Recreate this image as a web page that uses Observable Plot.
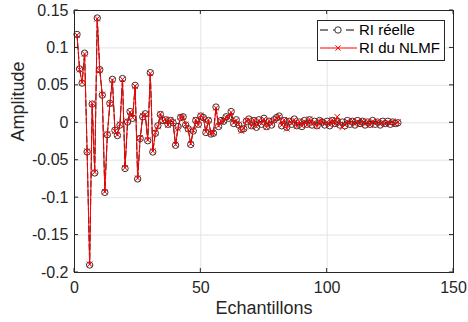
<!DOCTYPE html>
<html><head><meta charset="utf-8">
<script src="https://cdn.jsdelivr.net/npm/d3@7"></script>
<script src="https://cdn.jsdelivr.net/npm/@observablehq/plot@0.6"></script>
<style>body{margin:0;background:#fff} svg{font-family:"Liberation Sans",Arial,sans-serif}</style>
</head><body><div id="chart"></div>
<script>
const samples = d3.range(1, 129);
const riReelle = [0.118,0.072,0.053,0.093,-0.039,-0.190,0.025,-0.067,0.140,0.071,
0.037,-0.093,-0.016,0.026,0.058,-0.010,-0.017,-0.003,0.059,-0.061,
0.001,0.015,0.006,0.050,-0.075,-0.021,0.008,0.012,-0.024,0.067,
-0.039,-0.014,-0.004,0.011,0.003,0.004,-0.002,0.003,0.000,-0.030,
-0.005,0.007,0.008,-0.003,-0.008,-0.029,-0.011,0.003,-0.002,0.009,
0.007,-0.013,0.003,-0.015,-0.014,0.021,-0.005,0.003,0.002,0.008,
0.006,0.015,-0.001,0.004,-0.003,-0.009,-0.008,0.002,0.005,-0.004,
0.003,-0.006,0.004,-0.002,0.006,-0.005,0.002,-0.003,0.004,0.007,
0.009,-0.004,0.003,-0.006,0.002,-0.002,0.005,-0.004,0.001,-0.005,
0.003,-0.002,0.004,-0.003,0.002,-0.004,0.003,0.001,-0.003,0.002,
-0.004,0.003,-0.001,0.002,-0.003,0.001,-0.004,0.003,-0.002,0.002,
-0.003,0.003,-0.001,0.002,-0.003,0.001,-0.002,0.003,-0.002,0.001,
-0.003,0.002,-0.001,0.002,-0.002,0.001,-0.001,0.000];
const riNlmf = [0.117,0.071,0.054,0.092,-0.038,-0.189,0.026,-0.066,0.139,0.070,
0.038,-0.092,-0.015,0.025,0.057,-0.011,-0.016,-0.002,0.058,-0.060,
0.002,0.014,0.007,0.049,-0.074,-0.020,0.009,0.011,-0.023,0.066,
-0.038,-0.013,-0.005,0.012,0.002,0.005,-0.003,0.004,0.001,-0.029,
-0.008,0.008,0.007,-0.002,-0.009,-0.028,-0.010,0.004,-0.003,0.010,
0.006,-0.012,0.004,-0.014,-0.013,0.020,-0.004,0.002,0.003,0.007,
0.007,0.014,0.000,0.003,-0.002,-0.011,-0.007,0.003,0.004,-0.005,
0.004,-0.005,0.003,-0.001,0.005,-0.006,0.003,-0.002,0.003,0.006,
0.008,-0.003,0.004,-0.008,0.003,-0.001,0.004,-0.005,0.002,-0.004,
0.002,-0.003,0.005,-0.002,0.001,-0.005,0.002,0.002,-0.002,0.001,
-0.003,0.004,-0.002,0.008,-0.002,-0.006,-0.003,0.002,-0.001,0.003,
-0.002,0.002,-0.002,0.003,-0.002,0.002,-0.003,0.002,-0.001,0.002,
-0.002,0.001,-0.002,0.001,-0.001,0.002,-0.002,0.001];
const xTicks = [0, 50, 100, 150];
const yTicks = [-0.2, -0.15, -0.1, -0.05, 0, 0.05, 0.1, 0.15];
const yTickLabels = ["-0.2", "-0.15", "-0.1", "-0.05", "0", "0.05", "0.1", "0.15"];
const seriesNames = ["RI réelle", "RI du NLMF"];
const xLabel = "Echantillons";
const yLabel = "Amplitude";

const real = samples.map((n, i) => ({n, v: riReelle[i]}));
const est = samples.map((n, i) => ({n, v: riNlmf[i]}));
const W = 468, H = 322, mT = 10, mB = 50, mL = 74, mR = 15;

const plot = Plot.plot({
  width: W, height: H, marginTop: mT, marginBottom: mB, marginLeft: mL, marginRight: mR,
  style: {fontSize: "16px", fontFamily: "'Liberation Sans', Arial, sans-serif", color: "#262626", background: "#fff", overflow: "visible"},
  x: {domain: [0, 150]},
  y: {domain: [-0.2, 0.15]},
  marks: [
    Plot.gridX(xTicks, {stroke: "#e3e3e3", strokeOpacity: 1}),
    Plot.gridY(yTicks, {stroke: "#e3e3e3", strokeOpacity: 1}),
    Plot.axisX(xTicks, {tickSize: 0, tickPadding: 9, label: null, tickFormat: d => String(d), fill: "#262626"}),
    Plot.axisY(yTicks, {tickSize: 0, tickPadding: 6, label: null, tickFormat: d => yTickLabels[yTicks.indexOf(d)], fill: "#262626"}),
    Plot.text([xLabel], {text: d => d, frameAnchor: "bottom", dy: 41, fontSize: 18, fill: "#262626"}),
    Plot.text([yLabel], {text: d => d, frameAnchor: "left", dx: -56, rotate: -90, fontSize: 18, fill: "#262626"}),
    Plot.line(real, {x: "n", y: "v", stroke: "#000", strokeWidth: 1, strokeDasharray: "6,3"}),
    Plot.dot(real, {x: "n", y: "v", r: 3.2, stroke: "#333", strokeWidth: 1, fill: "none"}),
    Plot.line(est, {x: "n", y: "v", stroke: "#ff0000", strokeWidth: 1}),
    Plot.dot(est, {x: "n", y: "v", symbol: "times", r: 2.6, stroke: "#ff0000", strokeWidth: 1}),
    Plot.frame({stroke: "#262626", strokeWidth: 1})
  ]
});
document.getElementById("chart").appendChild(plot);

// inward ticks on all four sides (MATLAB box style)
const svg = d3.select(plot);
const sx = plot.scale("x"), sy = plot.scale("y");
const g = svg.append("g").style("stroke", "#262626").style("stroke-width", "1px");
const x0 = mL, x1 = W - mR, y0 = mT, y1 = H - mB, tl = 4;
xTicks.forEach(t => {
  const x = sx.apply(t);
  g.append("line").attr("x1", x).attr("x2", x).attr("y1", y1).attr("y2", y1 - tl);
  g.append("line").attr("x1", x).attr("x2", x).attr("y1", y0).attr("y2", y0 + tl);
});
yTicks.forEach(t => {
  const y = sy.apply(t);
  g.append("line").attr("x1", x0).attr("x2", x0 + tl).attr("y1", y).attr("y2", y);
  g.append("line").attr("x1", x1).attr("x2", x1 - tl).attr("y1", y).attr("y2", y);
});

// legend
const lg = svg.append("g").attr("text-anchor", "start").style("font-size", "15px");
lg.append("rect").attr("x", 317.5).attr("y", 20.5).attr("width", 127).attr("height", 40)
  .style("fill", "#ffffff").style("stroke", "#262626").style("stroke-width", "1px");
const rows = [30, 48];
// series 1: dashed black with circle
lg.append("line").attr("x1", 320).attr("x2", 355).attr("y1", rows[0]).attr("y2", rows[0])
  .style("stroke", "#000").style("stroke-dasharray", "8,5");
lg.append("circle").attr("cx", 338).attr("cy", rows[0]).attr("r", 3.2)
  .style("fill", "#fff").style("stroke", "#333");
lg.append("text").attr("x", 359).attr("y", rows[0]).attr("dy", "0.35em")
  .style("fill", "#000").style("text-anchor", "start").text(seriesNames[0]);
// series 2: red solid with x
lg.append("line").attr("x1", 320).attr("x2", 357).attr("y1", rows[1]).attr("y2", rows[1]).style("stroke", "#ff0000");
lg.append("path").attr("d", `M${338-2.6},${rows[1]-2.6}L${338+2.6},${rows[1]+2.6}M${338-2.6},${rows[1]+2.6}L${338+2.6},${rows[1]-2.6}`)
  .style("stroke", "#ff0000").style("fill", "none");
lg.append("text").attr("x", 359).attr("y", rows[1]).attr("dy", "0.35em")
  .style("fill", "#000").style("text-anchor", "start").text(seriesNames[1]);
</script></body></html>
